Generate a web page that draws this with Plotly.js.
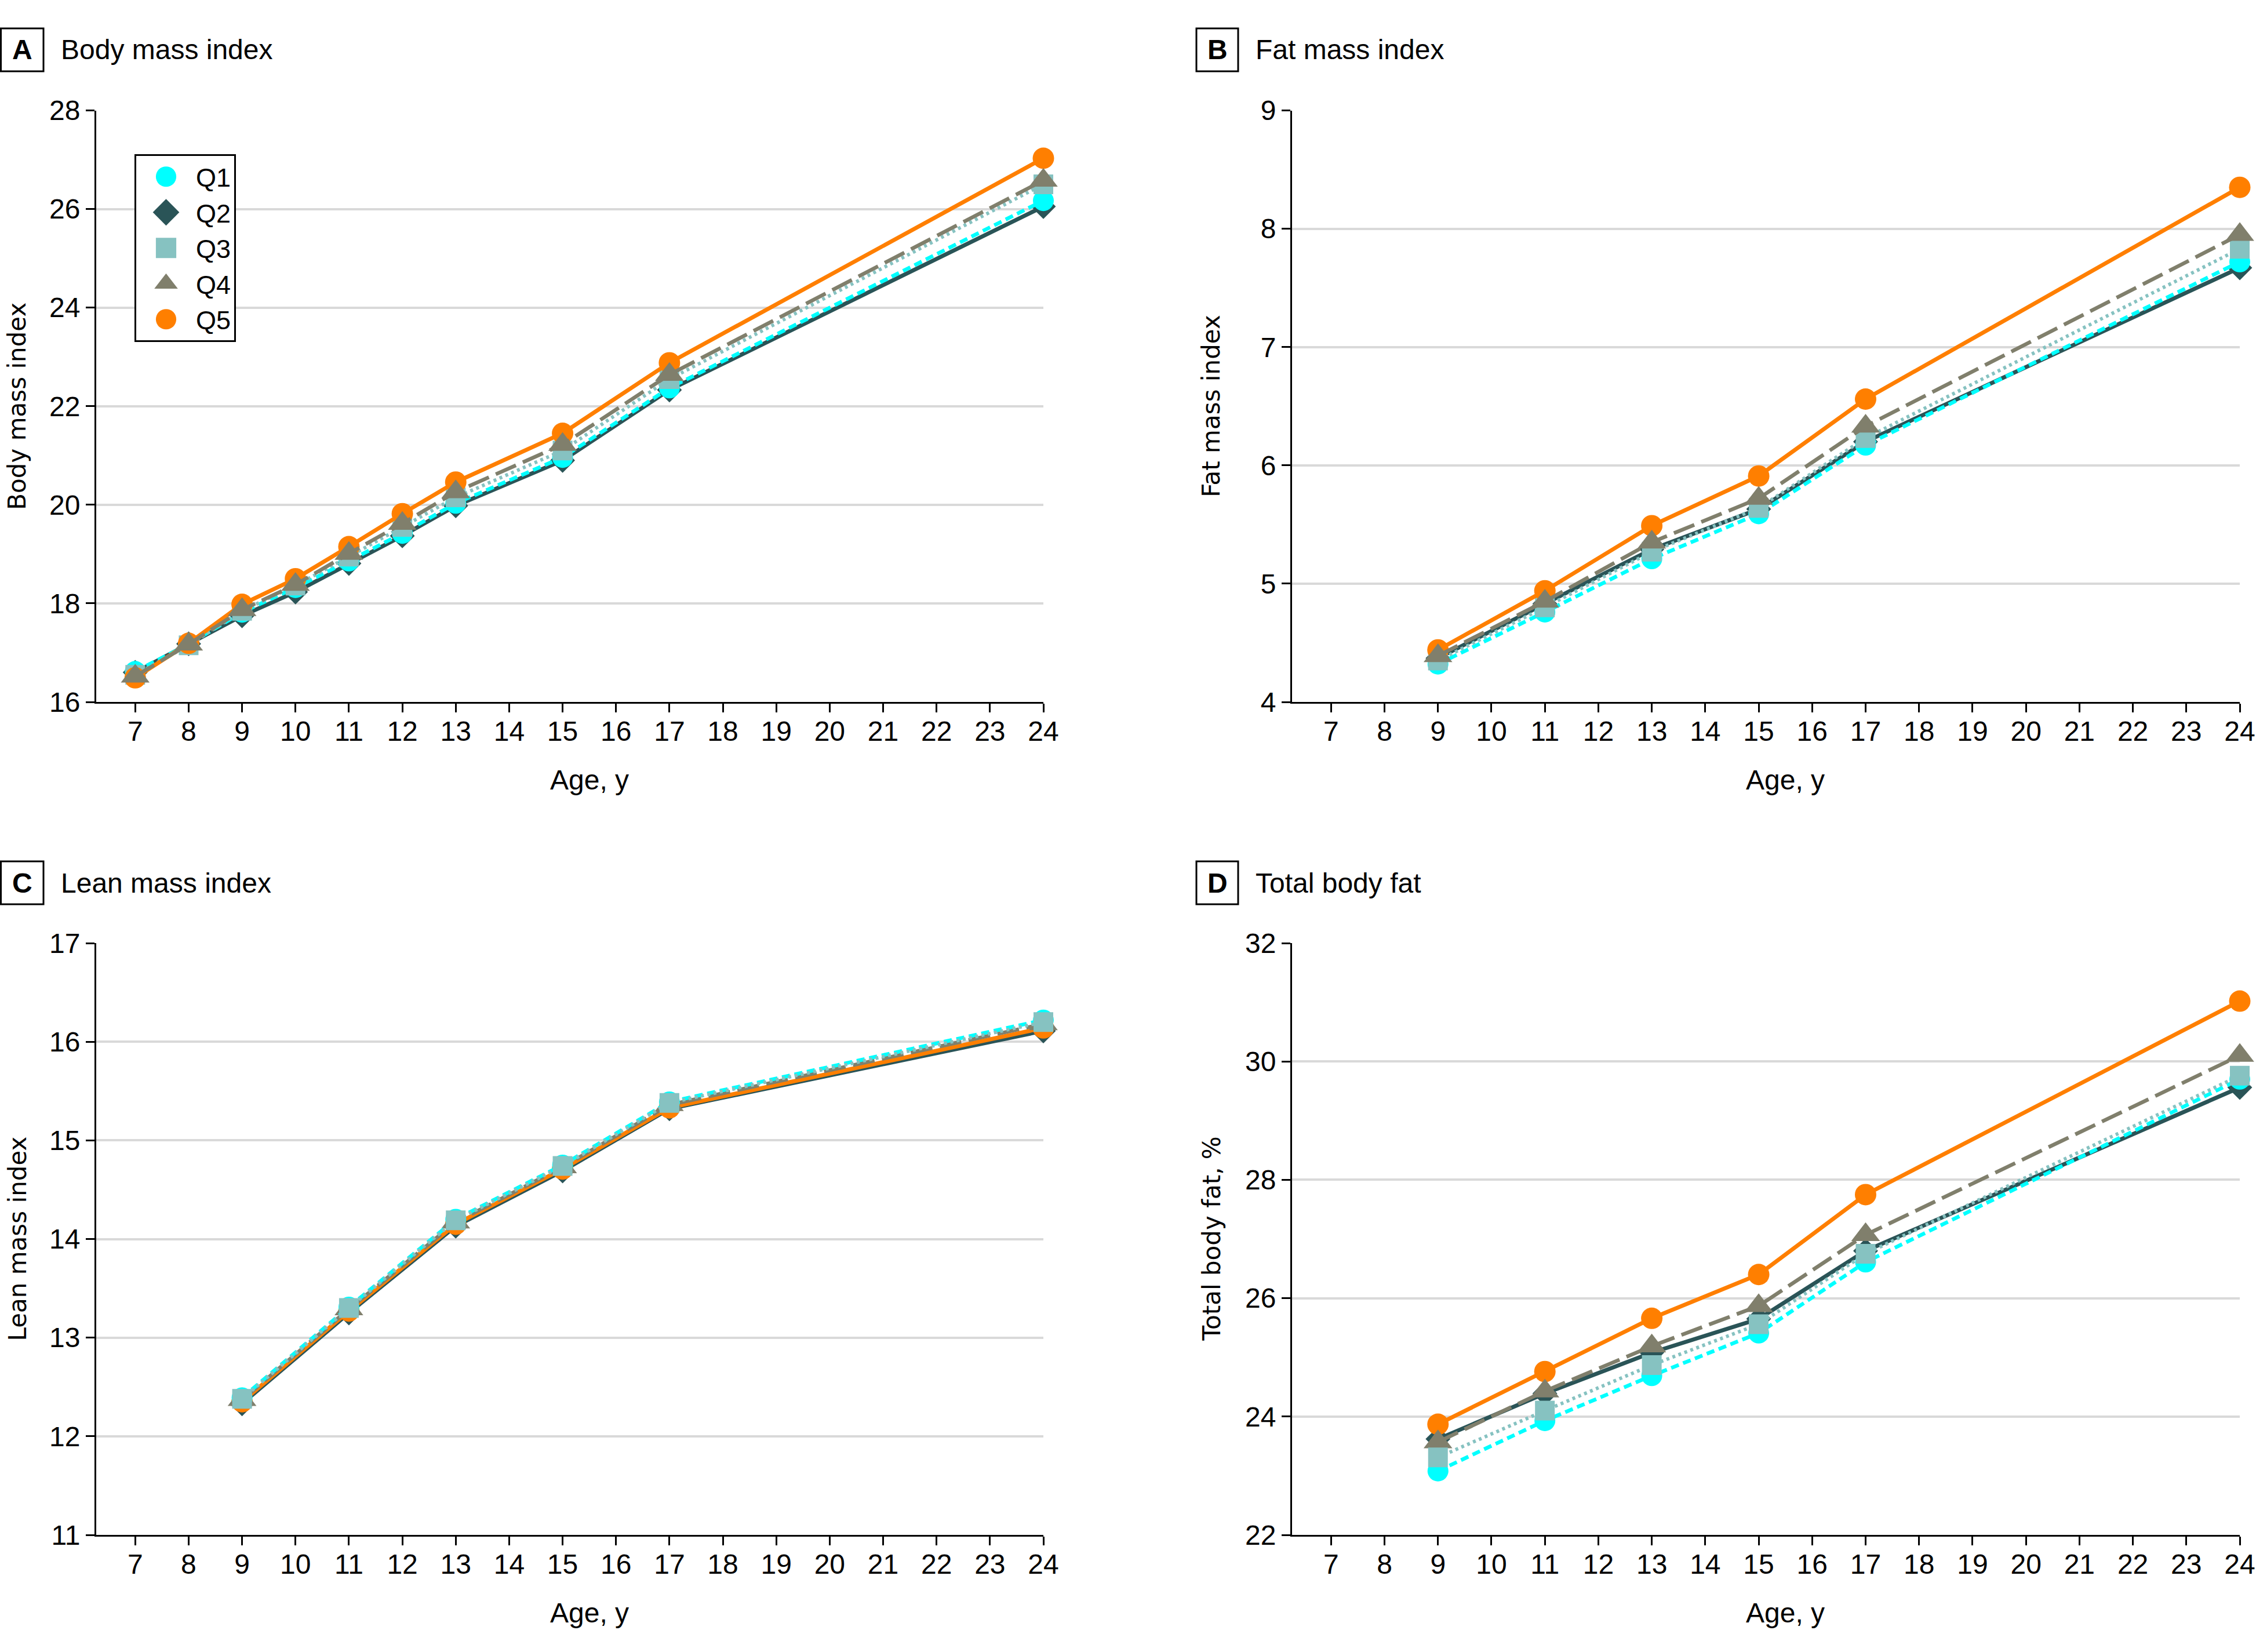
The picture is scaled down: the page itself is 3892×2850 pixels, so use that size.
<!DOCTYPE html>
<html>
<head>
<meta charset="utf-8">
<script src="https://cdn.plot.ly/plotly-3.0.1.min.js"></script>
<style>html,body{margin:0;padding:0;background:#fff;}#chart{width:3892px;height:2850px;}</style>
</head>
<body>
<div id="chart"></div>
<script>
// ---------- data ----------
const quintiles = ['Q1', 'Q2', 'Q3', 'Q4', 'Q5'];

const agesBMI = [7, 8, 9, 10, 11, 12, 13, 15, 17, 24];
const bmiQ1 = [16.62, 17.17, 17.82, 18.32, 18.86, 19.42, 20.03, 20.96, 22.37, 26.17];
const bmiQ2 = [16.60, 17.18, 17.75, 18.23, 18.81, 19.37, 19.98, 20.90, 22.33, 26.05];
const bmiQ3 = [16.55, 17.15, 17.85, 18.36, 18.95, 19.55, 20.15, 21.10, 22.55, 26.50];
const bmiQ4 = [16.52, 17.17, 17.87, 18.38, 19.01, 19.62, 20.26, 21.22, 22.64, 26.58];
const bmiQ5 = [16.49, 17.19, 17.98, 18.50, 19.15, 19.82, 20.46, 21.45, 22.88, 27.03];

const agesDXA = [9, 11, 13, 15, 17, 24];
const fmiQ1 = [4.32, 4.76, 5.21, 5.59, 6.17, 7.72];
const fmiQ2 = [4.37, 4.83, 5.29, 5.63, 6.20, 7.67];
const fmiQ3 = [4.35, 4.80, 5.27, 5.64, 6.23, 7.83];
const fmiQ4 = [4.39, 4.85, 5.35, 5.72, 6.33, 7.95];
const fmiQ5 = [4.44, 4.94, 5.49, 5.91, 6.56, 8.35];

const lmiQ1 = [12.39, 13.31, 14.20, 14.75, 15.39, 16.22];
const lmiQ2 = [12.33, 13.25, 14.13, 14.69, 15.32, 16.11];
const lmiQ3 = [12.38, 13.30, 14.19, 14.74, 15.38, 16.20];
const lmiQ4 = [12.37, 13.29, 14.17, 14.73, 15.36, 16.18];
const lmiQ5 = [12.35, 13.27, 14.15, 14.71, 15.33, 16.14];

const tbfQ1 = [23.08, 23.93, 24.69, 25.41, 26.61, 29.70];
const tbfQ2 = [23.62, 24.39, 25.08, 25.65, 26.80, 29.56];
const tbfQ3 = [23.31, 24.10, 24.87, 25.56, 26.75, 29.76];
const tbfQ4 = [23.57, 24.43, 25.19, 25.87, 27.07, 30.10];
const tbfQ5 = [23.87, 24.76, 25.66, 26.40, 27.75, 31.02];

const panelLetters = ['A', 'B', 'C', 'D'];
const panelTitles = ['Body mass index', 'Fat mass index', 'Lean mass index', 'Total body fat'];
const yTitles = ['Body mass index', 'Fat mass index', 'Lean mass index', 'Total body fat, %'];
const xTitle = 'Age, y';

// ---------- styles ----------
const W = 3892, H = 2850;
const NARROW = 'Liberation Sans, Arial, sans-serif';
const WIDE = 'DejaVu Sans, Noto Sans, sans-serif';
const styles = {
  Q1: {color: '#00FFFF', symbol: 'circle', size: 36, dash: '14px,8px', width: 6.5},
  Q2: {color: '#2A5457', symbol: 'diamond', size: 33, dash: 'solid', width: 7},
  Q3: {color: '#86C2C1', symbol: 'square', size: 34, dash: '5px,6px', width: 6},
  Q4: {color: '#807F6C', symbol: 'triangle-up', size: 43, dash: '38px,13px', width: 6.5},
  Q5: {color: '#FF7F00', symbol: 'circle', size: 37, dash: 'solid', width: 7}
};

const panels = [
  {ages: agesBMI, series: {Q1: bmiQ1, Q2: bmiQ2, Q3: bmiQ3, Q4: bmiQ4, Q5: bmiQ5}, order: ['Q2','Q1','Q3','Q5','Q4'], xa: 'x', ya: 'y'},
  {ages: agesDXA, series: {Q1: fmiQ1, Q2: fmiQ2, Q3: fmiQ3, Q4: fmiQ4, Q5: fmiQ5}, order: ['Q2','Q1','Q3','Q5','Q4'], xa: 'x2', ya: 'y2'},
  {ages: agesDXA, series: {Q1: lmiQ1, Q2: lmiQ2, Q3: lmiQ3, Q4: lmiQ4, Q5: lmiQ5}, order: ['Q2','Q5','Q4','Q1','Q3'], xa: 'x3', ya: 'y3'},
  {ages: agesDXA, series: {Q1: tbfQ1, Q2: tbfQ2, Q3: tbfQ3, Q4: tbfQ4, Q5: tbfQ5}, order: ['Q2','Q1','Q5','Q4','Q3'], xa: 'x4', ya: 'y4'}
];

const traces = [];
// legend-only entries (markers only, as in the reference legend)
quintiles.forEach((q, i) => {
  const s = styles[q];
  traces.push({
    type: 'scatter', mode: 'markers', name: q, x: [null], y: [null],
    xaxis: 'x', yaxis: 'y', showlegend: true, legendrank: i + 1,
    marker: {color: s.color, symbol: s.symbol, size: s.size}, hoverinfo: 'skip'
  });
});
panels.forEach(p => {
  p.order.forEach(q => {
    const s = styles[q];
    traces.push({
      type: 'scatter', mode: 'lines+markers', name: q,
      x: p.ages, y: p.series[q], xaxis: p.xa, yaxis: p.ya,
      showlegend: false, cliponaxis: false,
      line: {color: s.color, width: s.width, dash: s.dash},
      marker: {color: s.color, symbol: s.symbol, size: s.size, line: {width: 0}},
      hoverinfo: 'skip'
    });
  });
});

// ---------- layout ----------
const px = v => v / W;
const py = v => 1 - v / H;
const colX = [[166, 1800], [2229, 3864]];
const rowY = [[190.5, 1211], [1627, 2648]];
const yRanges = [[16, 28], [4, 9], [11, 17], [22, 32]];
const yDticks = [2, 1, 1, 2];

function xaxis(col, anchor) {
  return {
    domain: [px(colX[col][0]), px(colX[col][1])], range: [6.27, 24], anchor: anchor,
    tickmode: 'linear', tick0: 7, dtick: 1, showgrid: false, zeroline: false,
    showline: true, linecolor: '#000', linewidth: 3, ticks: 'outside', ticklen: 15,
    tickwidth: 3, tickcolor: '#000', tickfont: {family: NARROW, size: 48, color: '#000'},
    ticklabelstandoff: -9, fixedrange: true
  };
}
function yaxis(row, i, anchor) {
  return {
    domain: [py(rowY[row][1]), py(rowY[row][0])], range: yRanges[i], anchor: anchor,
    tickmode: 'linear', tick0: yRanges[i][0], dtick: yDticks[i],
    showgrid: true, gridcolor: '#D9D9D9', gridwidth: 4, zeroline: false,
    showline: true, linecolor: '#000', linewidth: 3, ticks: 'outside', ticklen: 15,
    tickwidth: 3, tickcolor: '#000', tickfont: {family: NARROW, size: 48, color: '#000'},
    fixedrange: true
  };
}

const layout = {
  width: W, height: H, margin: {l: 0, r: 0, t: 0, b: 0, pad: 0},
  paper_bgcolor: '#fff', plot_bgcolor: 'rgba(0,0,0,0)',
  showlegend: true,
  legend: {
    x: px(232), y: py(266), xanchor: 'left', yanchor: 'top',
    bordercolor: '#000', borderwidth: 3, bgcolor: '#fff',
    font: {family: NARROW, size: 45, color: '#000'}, itemwidth: 93, tracegroupgap: 0
  },
  xaxis: xaxis(0, 'y'), yaxis: yaxis(0, 0, 'x'),
  xaxis2: xaxis(1, 'y2'), yaxis2: yaxis(0, 1, 'x2'),
  xaxis3: xaxis(0, 'y3'), yaxis3: yaxis(1, 2, 'x3'),
  xaxis4: xaxis(1, 'y4'), yaxis4: yaxis(1, 3, 'x4'),
  shapes: [], annotations: []
};

const boxX = [[1.5, 75], [2064, 2136]];
const boxY = [[49, 123], [1486, 1560]];
const axNames = [['x', 'y'], ['x2', 'y2'], ['x3', 'y3'], ['x4', 'y4']];
panelLetters.forEach((L, i) => {
  const col = i % 2, row = Math.floor(i / 2);
  const bx = boxX[col], by = boxY[row];
  layout.shapes.push({type: 'rect', xref: 'paper', yref: 'paper',
    x0: px(bx[0]), x1: px(bx[1]), y0: py(by[1]), y1: py(by[0]),
    line: {color: '#000', width: 3}, fillcolor: 'rgba(0,0,0,0)'});
  layout.annotations.push({xref: 'paper', yref: 'paper', x: px((bx[0] + bx[1]) / 2), y: py((by[0] + by[1]) / 2),
    xanchor: 'center', yanchor: 'middle', showarrow: false, text: '<b>' + L + '</b>',
    font: {family: NARROW, size: 48, color: '#000'}});
  layout.annotations.push({xref: 'paper', yref: 'paper', x: px(bx[1] + 28), y: py((by[0] + by[1]) / 2),
    xanchor: 'left', yanchor: 'middle', showarrow: false, text: panelTitles[i],
    font: {family: NARROW, size: 48, color: '#000'}});
  // x-axis title, centred on the tick range
  layout.annotations.push({xref: axNames[i][0], yref: 'paper', x: 15.5, y: py(rowY[row][1] + 134),
    xanchor: 'center', yanchor: 'middle', showarrow: false, text: xTitle,
    font: {family: NARROW, size: 48, color: '#000'}});
  // y-axis title
  layout.annotations.push({xref: 'paper', yref: 'paper', x: px(col === 0 ? 30 : 2090), y: py((rowY[row][0] + rowY[row][1]) / 2),
    xanchor: 'center', yanchor: 'middle', showarrow: false, textangle: -90, text: yTitles[i],
    font: {family: WIDE, size: 42, color: '#000'}});
});

Plotly.newPlot('chart', traces, layout, {staticPlot: true, displayModeBar: false}).then(gd => {
  // enlarge the legend symbols (Plotly caps legend marker size at 16px)
  gd.querySelectorAll('.legend .legendpoints path').forEach(p => {
    const t = p.getAttribute('transform') || '';
    p.setAttribute('transform', t + ' scale(2.2)');
  });
});
</script>
</body>
</html>
